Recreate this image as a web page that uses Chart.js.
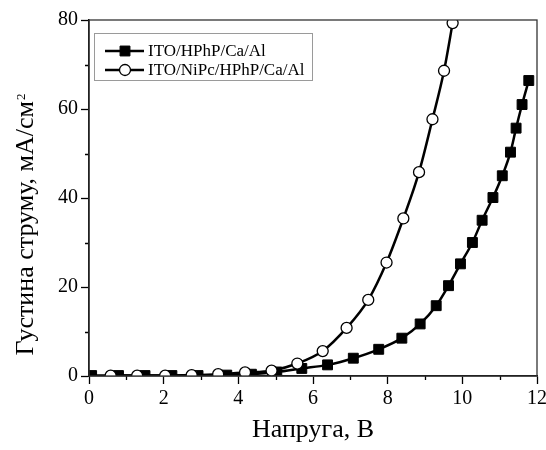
<!DOCTYPE html>
<html>
<head>
<meta charset="utf-8">
<script src="https://cdn.jsdelivr.net/npm/chart.js@4.4.1/dist/chart.umd.min.js"></script>
<style>
  html, body { margin: 0; padding: 0; background: #fff; }
  canvas { display: block; }
</style>
</head>
<body>
<canvas id="jv" width="546" height="450"></canvas>
<script>
// ITO/HPhP/Ca/Al (filled squares)
const voltA = [0.07, 0.79, 1.50, 2.22, 2.92, 3.69, 4.35, 5.03, 5.70, 6.39, 7.08, 7.76, 8.38, 8.87, 9.30, 9.63, 9.95, 10.27, 10.53, 10.82, 11.07, 11.29, 11.44, 11.60, 11.78];
const currA = [0.1, 0.1, 0.1, 0.1, 0.1, 0.2, 0.4, 0.9, 1.7, 2.5, 4.0, 6.0, 8.5, 11.7, 15.8, 20.3, 25.2, 30.0, 35.0, 40.1, 45.0, 50.3, 55.7, 61.0, 66.4];
// ITO/NiPc/HPhP/Ca/Al (open circles)
const voltB = [0.58, 1.29, 2.04, 2.75, 3.46, 4.18, 4.89, 5.58, 6.26, 6.90, 7.48, 7.97, 8.42, 8.84, 9.20, 9.51, 9.74];
const currB = [0.1, 0.1, 0.1, 0.2, 0.4, 0.8, 1.2, 2.8, 5.6, 10.8, 17.1, 25.5, 35.4, 45.8, 57.7, 68.6, 79.3];

const labelA = 'ITO/HPhP/Ca/Al';
const labelB = 'ITO/NiPc/HPhP/Ca/Al';
const xMinorTicks = [1, 3, 5, 7, 9, 11];
const yMinorTicks = [10, 30, 50, 70];

const SERIF = '"Liberation Serif", "Times New Roman", serif';

const toPoints = (xs, ys) => xs.map((x, i) => ({ x: x, y: ys[i] }));

// minor ticks, top/right frame, legend box and the y title (with superscript)
const extras = {
    id: 'extras',
    afterDraw(chart) {
        const { ctx, chartArea: a, scales } = chart;
        ctx.save();
        ctx.strokeStyle = '#000';
        ctx.lineWidth = 1.3;
        ctx.beginPath();
        xMinorTicks.forEach(v => {
            const px = Math.round(scales.x.getPixelForValue(v)) + 0.5;
            ctx.moveTo(px, a.bottom); ctx.lineTo(px, a.bottom + 4);
        });
        yMinorTicks.forEach(v => {
            const py = Math.round(scales.y.getPixelForValue(v)) + 0.5;
            ctx.moveTo(a.left, py); ctx.lineTo(a.left - 4, py);
        });
        ctx.stroke();

        ctx.strokeStyle = '#333';
        ctx.lineWidth = 1.3;
        ctx.strokeRect(a.left, a.top, a.right - a.left, a.bottom - a.top);

        // legend
        ctx.strokeStyle = '#9a9a9a';
        ctx.lineWidth = 1;
        ctx.strokeRect(94.5, 33.5, 218, 47);
        ctx.font = '17px ' + SERIF;
        ctx.fillStyle = '#000';
        ctx.textBaseline = 'middle';
        const rows = [[1, labelA, 51], [0, labelB, 70]];
        rows.forEach(([di, text, y]) => {
            const ds = chart.data.datasets[di];
            ctx.strokeStyle = '#000';
            ctx.lineWidth = 2.5;
            ctx.beginPath(); ctx.moveTo(105, y); ctx.lineTo(144, y); ctx.stroke();
            ctx.fillStyle = ds.pointBackgroundColor;
            ctx.strokeStyle = ds.pointBorderColor;
            ctx.lineWidth = ds.pointBorderWidth;
            Chart.helpers.drawPoint(ctx, { pointStyle: ds.pointStyle, radius: ds.pointRadius, rotation: 0, borderWidth: ds.pointBorderWidth }, 125, y);
            ctx.fillStyle = '#000';
            ctx.fillText(text, 148, y + 1);
        });

        // y title
        const main = 'Густина струму, мА/см';
        ctx.font = '26px ' + SERIF;
        const wMain = ctx.measureText(main).width;
        ctx.font = '13px ' + SERIF;
        const wSup = ctx.measureText('2').width;
        const total = wMain + wSup;
        ctx.translate(33, 225);
        ctx.rotate(-Math.PI / 2);
        ctx.textBaseline = 'alphabetic';
        ctx.textAlign = 'left';
        ctx.font = '26px ' + SERIF;
        ctx.fillText(main, -total / 2, 0);
        ctx.font = '13px ' + SERIF;
        ctx.fillText('2', -total / 2 + wMain + 1, -8);
        ctx.restore();
    }
};

new Chart(document.getElementById('jv'), {
    type: 'scatter',
    data: {
        datasets: [
            {
                label: labelB, data: toPoints(voltB, currB), order: 0,
                showLine: true, cubicInterpolationMode: 'monotone', clip: 0,
                borderColor: '#000', borderWidth: 2.5,
                pointStyle: 'circle', pointRadius: 5.5, pointBorderWidth: 1.3,
                pointBackgroundColor: '#fff', pointBorderColor: '#000'
            },
            {
                label: labelA, data: toPoints(voltA, currA), order: 1,
                showLine: true, cubicInterpolationMode: 'monotone', clip: 0,
                borderColor: '#000', borderWidth: 2.5,
                pointStyle: 'rect', pointRadius: 7, pointBorderWidth: 1,
                pointBackgroundColor: '#000', pointBorderColor: '#000'
            }
        ]
    },
    options: {
        responsive: false,
        animation: false,
        layout: { padding: { left: 0, top: 20, right: 9, bottom: 0 } },
        plugins: { legend: { display: false }, tooltip: { enabled: false } },
        scales: {
            x: {
                type: 'linear', min: 0, max: 12,
                afterFit: s => { s.height = 74; s.paddingRight = 0; s.paddingLeft = 0; },
                ticks: { stepSize: 2, color: '#000', padding: 3, maxRotation: 0, font: { family: SERIF, size: 20 } },
                grid: { drawOnChartArea: false, tickLength: 8, color: '#000', tickWidth: 1.3 },
                border: { color: '#000', width: 1.5 },
                title: { display: true, text: 'Напруга, В', color: '#000', padding: { top: 0, bottom: 4 }, font: { family: SERIF, size: 26 } }
            },
            y: {
                type: 'linear', min: 0, max: 80,
                afterFit: s => { s.width = 89; },
                ticks: { stepSize: 20, color: '#000', padding: 3, font: { family: SERIF, size: 20 } },
                grid: { drawOnChartArea: false, tickLength: 8, color: '#000', tickWidth: 1.3 },
                border: { color: '#000', width: 1.5 }
            }
        }
    },
    plugins: [extras]
});
</script>
</body>
</html>
